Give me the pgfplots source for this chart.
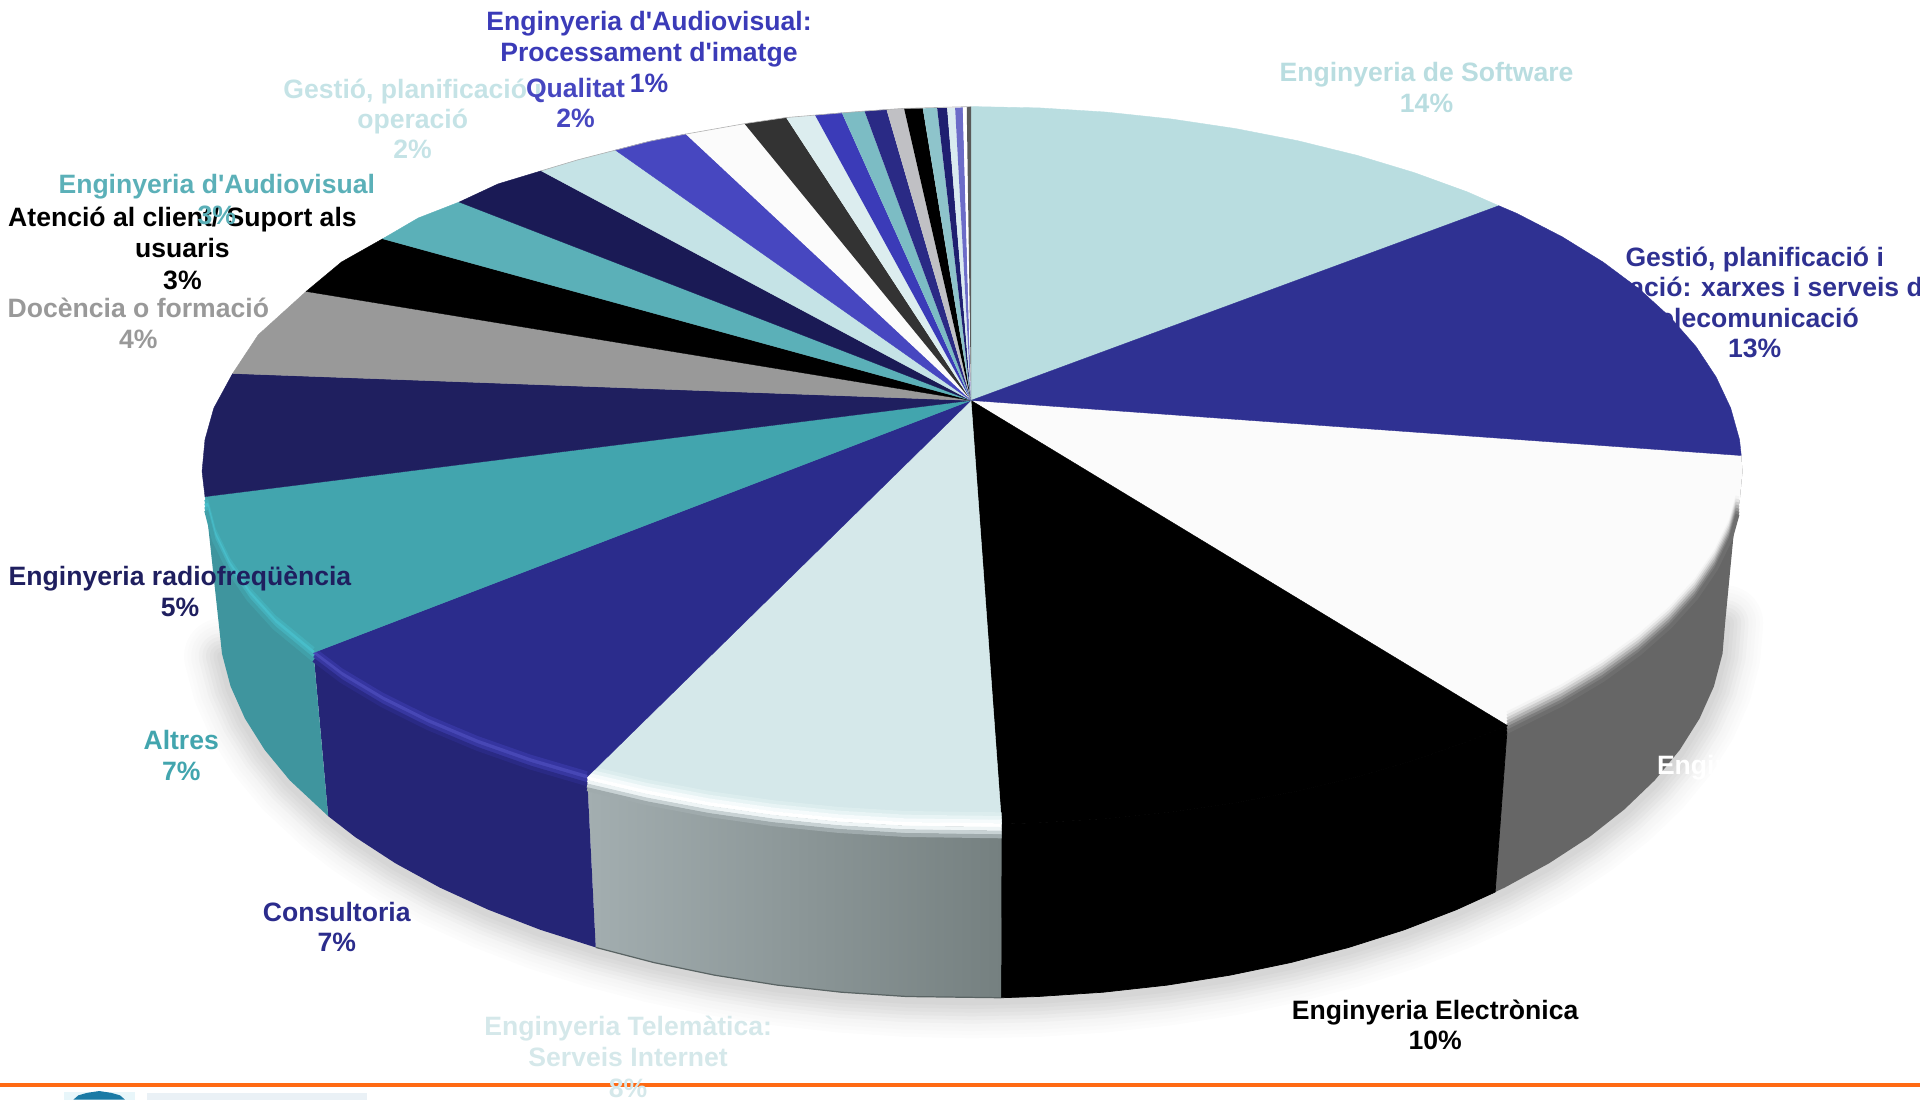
\documentclass[border=0pt]{standalone}
\usepackage{fontspec}
\setmainfont{Liberation Sans}[Ligatures=TeXOff]
\usepackage{pgfplots}
\pgfplotsset{compat=1.18}
\pgfplotstableread{
x y
1409 507
1406.7 533.9
1399.7 560.5
1388 586.7
1371.9 612.3
1351.4 637.2
1326.6 661
1297.8 683.7
1265.1 705
1228.9 724.8
1189.3 742.9
1146.8 759.3
1101.5 773.7
1053.9 786.1
1004.3 796.4
953.2 804.5
900.8 810.3
847.6 813.8
794 815
740.4 813.8
687.2 810.3
634.8 804.5
583.7 796.4
534.1 786.1
486.5 773.7
441.2 759.3
398.7 742.9
359.1 724.8
322.9 705
290.2 683.7
268 666.5
236.6 637.2
216.1 612.3
200 586.7
188.3 560.5
181.3 533.9
}\shadowarc
\pgfplotstableread{
x y
1419 415
1413.4 435
1401.5 459.5
1385.1 483.5
1364.1 506.7
1338.7 529
1309.3 550.2
1275.8 570.2
1238.8 588.6
1231 592.5
}\rimWhite
\pgfplotstableread{
x y
818 673
739.2 671.9
684.8 668.6
631.2 663.1
578.9 655.6
528.2 646
479.5 634.5
}\rimLight
\pgfplotstableread{
x y
479.5 634.5
433.2 620.9
389.7 605.6
349.2 588.6
312.2 570.2
278.7 550.2
256 533
}\rimNavy
\pgfplotstableread{
x y
256 533
224 506.7
202.9 483.5
186.5 459.5
174.6 435
168.4 411
}\rimTeal
\definecolor{cSoft}{HTML}{B9DDE0}
\definecolor{cGest}{HTML}{2F3192}
\definecolor{cLight}{HTML}{D5E8EA}
\definecolor{cNavy}{HTML}{2B2C8C}
\definecolor{cTeal}{HTML}{42A5AE}
\definecolor{cDark}{HTML}{1F1F5F}
\definecolor{cGray}{HTML}{999999}
\definecolor{cTeal2}{HTML}{5BB0B8}
\definecolor{cNavy2}{HTML}{1A1A55}
\definecolor{cLight2}{HTML}{C5E3E6}
\definecolor{cBlue}{HTML}{4747C0}
\definecolor{cBlue2}{HTML}{3B3BB8}
\definecolor{cFace}{HTML}{FBFBFB}
\definecolor{sLeft}{HTML}{A3AEB0}
\definecolor{sRight}{HTML}{758080}
\begin{document}
\begin{tikzpicture}[x=1pt,y=1pt,
  lab/.style={anchor=base,inner sep=0pt,yshift=-.3pt,font=\fontsize{21.7}{25.5}\selectfont\bfseries},
  shd/.style={line cap=round,line join=round},
  bev/.style={line width=3.2,line cap=butt,line join=round}]
\clip[use as bounding box] (0,0) rectangle (1568pt,897.6pt);
\begin{axis}[at={(0,0)},anchor=south west,scale only axis,width=1568pt,height=897.6pt,
  xmin=0,xmax=1568,ymin=0,ymax=897.6,y dir=reverse,hide axis,clip=false]
% soft shadow under the pie
\addplot[draw=black!1,line width=62,shd,yshift=-2pt] table {\shadowarc};
\addplot[draw=black!2,line width=56,shd,yshift=-2pt] table {\shadowarc};
\addplot[draw=black!3,line width=50,shd,yshift=-2pt] table {\shadowarc};
\addplot[draw=black!4,line width=44,shd,yshift=-2pt] table {\shadowarc};
\addplot[draw=black!6,line width=38,shd,yshift=-2pt] table {\shadowarc};
\addplot[draw=black!8,line width=32,shd,yshift=-2pt] table {\shadowarc};
\addplot[draw=black!10,line width=26,shd,yshift=-2pt] table {\shadowarc};
\addplot[draw=black!12,line width=20,shd,yshift=-2pt] table {\shadowarc};
\addplot[draw=black!14,line width=14,shd,yshift=-2pt] table {\shadowarc};
\addplot[draw=black!16,line width=8,shd,yshift=-2pt] table {\shadowarc};
% side faces
\addplot[fill=black!60,draw=none] coordinates {(1422,372)(1423,385)(1420.6,410.1)(1413.4,435)(1401.5,459.5)(1385.1,483.5)(1364.1,506.7)(1338.7,529)(1309.3,550.2)(1275.8,570.2)(1238.8,588.6)(1231,592.5)(1221,728.5)(1228.9,724.8)(1265.1,705)(1297.8,683.7)(1326.6,661)(1351.4,637.2)(1371.9,612.3)(1388,586.7)(1399.7,560.5)(1406.7,533.9)(1409,507)} --cycle;
\addplot[fill=black,draw=black,line width=.6] coordinates {(1231,592.5)(1198.3,605.6)(1154.8,620.9)(1108.5,634.4)(1059.8,646)(1009.1,655.6)(956.8,663.1)(903.2,668.6)(848.8,671.9)(818,673)(817.6,814.8)(847.6,813.8)(900.8,810.3)(953.2,804.5)(1004.3,796.4)(1053.9,786.1)(1101.5,773.7)(1146.8,759.3)(1189.3,742.9)(1221,728.5)} --cycle;
\addplot[left color=sLeft,right color=sRight,draw=none] coordinates {(818,673)(739.2,671.9)(684.8,668.6)(631.2,663.1)(578.9,655.6)(528.2,646)(479.5,634.5)(486.5,773.7)(534.1,786.1)(583.7,796.4)(634.8,804.5)(687.2,810.3)(740.4,813.8)(817.6,814.8)} --cycle;
\addplot[fill={rgb,255:red,37;green,37;blue,118},draw=none] coordinates {(479.5,634.5)(433.2,620.9)(389.7,605.6)(349.2,588.6)(312.2,570.2)(278.7,550.2)(256,533)(268,666.5)(290.2,683.7)(322.9,705)(359.1,724.8)(398.7,742.9)(441.2,759.3)(486.5,773.7)} --cycle;
\addplot[fill={rgb,255:red,63;green,149;blue,158},draw=none] coordinates {(256,533)(224,506.7)(202.9,483.5)(186.5,459.5)(174.6,435)(167.4,405.6)(181.3,533.9)(188.3,560.5)(200,586.7)(216.1,612.3)(236.6,637.2)(268,666.5)} --cycle;
% bottom outline of the light slice
\addplot[draw={rgb,255:red,90;green,100;blue,100},line width=1] coordinates {(486.5,773.7)(534.1,786.1)(583.7,796.4)(634.8,804.5)(687.2,810.3)(740.4,813.8)(817.6,814.8)};
% top faces, clockwise from the top
\addplot[fill=cSoft,draw=cSoft,line width=.3] coordinates {(793,327)(793,87)(848.8,88.1)(903.2,91.5)(956.8,97.2)(1009.1,105)(1059.8,114.9)(1108.5,126.9)(1154.8,140.9)(1198.3,156.7)(1224,168)} --cycle;
\addplot[fill=cFace,draw=none] coordinates {(793,327)(1422,372)(1423,385)(1420.6,410.1)(1413.4,435)(1401.5,459.5)(1385.1,483.5)(1364.1,506.7)(1338.7,529)(1309.3,550.2)(1275.8,570.2)(1238.8,588.6)(1231,592.5)} --cycle;
% soft bevel of the white slice
\addplot[draw={rgb,255:red,244;green,244;blue,244},bev,yshift=10pt] table {\rimWhite};
\addplot[draw={rgb,255:red,228;green,228;blue,228},bev,yshift=7.5pt] table {\rimWhite};
\addplot[draw={rgb,255:red,205;green,205;blue,205},bev,yshift=5pt] table {\rimWhite};
\addplot[draw={rgb,255:red,178;green,178;blue,178},bev,yshift=2.5pt] table {\rimWhite};
\addplot[draw={rgb,255:red,150;green,150;blue,150},bev] table {\rimWhite};
\addplot[draw={rgb,255:red,125;green,125;blue,125},bev,yshift=-2.5pt] table {\rimWhite};
\addplot[draw={rgb,255:red,110;green,110;blue,110},bev,yshift=-5pt] table {\rimWhite};
\addplot[fill=cGest,draw=cGest,line width=.3] coordinates {(793,327)(1224,168)(1238.8,174.3)(1275.8,193.4)(1309.3,214.1)(1338.7,236)(1364.1,259.1)(1385.1,283.1)(1401.5,307.9)(1413.4,333.3)(1420.6,359)(1422,372)} --cycle;
\addplot[fill=black,draw=black,line width=.3] coordinates {(793,327)(1231,592.5)(1198.3,605.6)(1154.8,620.9)(1108.5,634.4)(1059.8,646)(1009.1,655.6)(956.8,663.1)(903.2,668.6)(848.8,671.9)(818,673)} --cycle;
\addplot[fill=cLight,draw=cLight,line width=.3] coordinates {(793,327)(818,673)(739.2,671.9)(684.8,668.6)(631.2,663.1)(578.9,655.6)(528.2,646)(479.5,634.5)} --cycle;
% highlight of the light slice
\addplot[draw={rgb,255:red,220;green,237;blue,238},bev,yshift=8pt] table {\rimLight};
\addplot[draw={rgb,255:red,232;green,244;blue,245},bev,yshift=5pt] table {\rimLight};
\addplot[draw={rgb,255:red,246;green,251;blue,252},bev,yshift=2pt] table {\rimLight};
\addplot[draw=white,bev,yshift=-1pt] table {\rimLight};
\addplot[draw={rgb,255:red,239;green,245;blue,246},bev,yshift=-4pt] table {\rimLight};
\addplot[draw={rgb,255:red,200;green,210;blue,212},bev,yshift=-7pt] table {\rimLight};
\addplot[draw={rgb,255:red,160;green,171;blue,173},bev,yshift=-10pt] table {\rimLight};
\addplot[fill=cNavy,draw=cNavy,line width=.3] coordinates {(793,327)(479.5,634.5)(433.2,620.9)(389.7,605.6)(349.2,588.6)(312.2,570.2)(278.7,550.2)(256,533)} --cycle;
% highlight of the navy slice
\addplot[draw={rgb,255:red,53;green,53;blue,160},bev,yshift=3pt] table {\rimNavy};
\addplot[draw={rgb,255:red,71;green,71;blue,181},bev] table {\rimNavy};
\addplot[draw={rgb,255:red,55;green,55;blue,160},bev,yshift=-3pt] table {\rimNavy};
\addplot[draw={rgb,255:red,42;green,42;blue,133},bev,yshift=-6pt] table {\rimNavy};
\addplot[fill=cTeal,draw=cTeal,line width=.3] coordinates {(793,327)(256,533)(224,506.7)(202.9,483.5)(186.5,459.5)(174.6,435)(167.4,405.6)} --cycle;
% highlight of the teal slice
\addplot[draw={rgb,255:red,68;green,176;blue,186},bev,yshift=3pt] table {\rimTeal};
\addplot[draw={rgb,255:red,72;green,189;blue,201},bev] table {\rimTeal};
\addplot[draw={rgb,255:red,69;green,176;blue,187},bev,yshift=-3pt] table {\rimTeal};
\addplot[draw={rgb,255:red,65;green,160;blue,169},bev,yshift=-6pt] table {\rimTeal};
\addplot[fill=cDark,draw=cDark,line width=.3] coordinates {(793,327)(167.4,405.6)(165,385)(167.4,359)(174.6,333.3)(190,305)} --cycle;
\addplot[fill=cGray,draw=cGray,line width=.3] coordinates {(793,327)(190,305)(210.9,273.4)(250,238)} --cycle;
\addplot[fill=black,draw=black,line width=.3] coordinates {(793,327)(250,238)(278.8,214)(312.5,195)} --cycle;
\addplot[fill=cTeal2,draw=cTeal2,line width=.3] coordinates {(793,327)(312.5,195)(341.6,178)(375,165)} --cycle;
\addplot[fill=cNavy2,draw=cNavy2,line width=.3] coordinates {(793,327)(375,165)(406.7,150.2)(442,139.5)} --cycle;
\addplot[fill=cLight2,draw=cLight2,line width=.3] coordinates {(793,327)(442,139.5)(472,130.5)(502.6,122.6)} --cycle;
\addplot[fill=cBlue,draw=cBlue,line width=.3] coordinates {(793,327)(502.6,122.6)(530,115.5)(560,109.5)} --cycle;
\addplot[fill=cFace,draw=none] coordinates {(793,327)(560,109.5)(608,101)} --cycle;
\addplot[fill=black!80,draw=none] coordinates {(793,327)(608,101)(642,96)} --cycle;
\addplot[fill={rgb,255:red,220;green,237;blue,239},draw=none] coordinates {(793,327)(642,96)(665.6,94)} --cycle;
\addplot[fill=cBlue2,draw=none] coordinates {(793,327)(665.6,94)(687.5,92)} --cycle;
\addplot[fill={rgb,255:red,124;green,188;blue,196},draw=none] coordinates {(793,327)(687.5,92)(706,90.7)} --cycle;
\addplot[fill={rgb,255:red,42;green,42;blue,133},draw=none] coordinates {(793,327)(706,90.7)(724,89.4)} --cycle;
\addplot[fill={rgb,255:red,192;green,192;blue,196},draw=none] coordinates {(793,327)(724,89.4)(738.3,88.5)} --cycle;
\addplot[fill=black,draw=none] coordinates {(793,327)(738.3,88.5)(753.6,88.5)} --cycle;
\addplot[fill={rgb,255:red,142;green,196;blue,203},draw=none] coordinates {(793,327)(753.6,88.5)(765.3,88)} --cycle;
\addplot[fill={rgb,255:red,31;green,31;blue,112},draw=none] coordinates {(793,327)(765.3,88)(773.5,88)} --cycle;
\addplot[fill={rgb,255:red,218;green,235;blue,240},draw=none] coordinates {(793,327)(773.5,88)(780,88)} --cycle;
\addplot[fill={rgb,255:red,108;green,108;blue,200},draw=none] coordinates {(793,327)(780,88)(786.3,87.7)} --cycle;
\addplot[fill=white,draw=none] coordinates {(793,327)(786.3,87.7)(789.5,87.7)} --cycle;
\addplot[fill=black!65,draw=none] coordinates {(793,327)(789.5,87.7)(793,87)} --cycle;
% thin grey edge along the back rim
\addplot[draw=black!30,line width=.5] coordinates {(442,139.5)(472,130.5)(502.6,122.6)(530,115.5)(560,109.5)(608,101)(642,96)(665.6,94)(706,90.7)(738.3,88.5)(793,87)};
% footer rule and the top of the logo
\addplot[draw={rgb,255:red,255;green,106;blue,19},line width=2.6] coordinates {(0,886)(1568,886)};
\addplot[fill={rgb,255:red,232;green,246;blue,250},draw=none] coordinates {(52,892)(110,892)(110,898)(52,898)} --cycle;
\addplot[fill={rgb,255:red,26;green,122;blue,165},draw=none] coordinates {(60,898)(64,894.5)(71,892.5)(81,891)(91,892.5)(98,894.5)(102,898)} --cycle;
\addplot[fill={rgb,255:red,234;green,241;blue,246},draw=none] coordinates {(120,892.5)(300,892.5)(300,898)(120,898)} --cycle;
% data labels
\node[lab,text=cSoft] at (axis cs:1165,66) {Enginyeria de Software};
\node[lab,text=cSoft] at (axis cs:1165,91.5) {14\%};
\node[lab,text=cGest] at (axis cs:1433,217) {Gestió, planificació i};
\node[lab,text=cGest] at (axis cs:1433,242) {operació: xarxes i serveis de};
\node[lab,text=cGest] at (axis cs:1433,267) {telecomunicació};
\node[lab,text=cGest] at (axis cs:1433,292) {13\%};
\node[lab,text=white,anchor=base west] at (axis cs:1353,632) {Enginyeria};
\node[lab,text=black] at (axis cs:1172,832) {Enginyeria Electrònica};
\node[lab,text=black] at (axis cs:1172,857) {10\%};
\node[lab,text=cLight] at (axis cs:513,845) {Enginyeria Telemàtica:};
\node[lab,text=cLight] at (axis cs:513,870.5) {Serveis Internet};
\node[lab,text=cLight] at (axis cs:513,896) {8\%};
\node[lab,text=cNavy] at (axis cs:275,752) {Consultoria};
\node[lab,text=cNavy] at (axis cs:275,777) {7\%};
\node[lab,text=cTeal] at (axis cs:148,612) {Altres};
\node[lab,text=cTeal] at (axis cs:148,637) {7\%};
\node[lab,text=cDark] at (axis cs:147,478) {Enginyeria radiofreqüència};
\node[lab,text=cDark] at (axis cs:147,503) {5\%};
\node[lab,text=cGray] at (axis cs:113,259) {Docència o formació};
\node[lab,text=cGray] at (axis cs:113,284) {4\%};
\node[lab,text=black] at (axis cs:149,185) {Atenció al client/ Suport als};
\node[lab,text=black] at (axis cs:149,210) {usuaris};
\node[lab,text=black] at (axis cs:149,236) {3\%};
\node[lab,text=cTeal2] at (axis cs:177,157.5) {Enginyeria d'Audiovisual};
\node[lab,text=cTeal2] at (axis cs:177,183) {3\%};
\node[lab,text=cLight2] at (axis cs:337,80) {Gestió, planificació i};
\node[lab,text=cLight2] at (axis cs:337,105) {operació};
\node[lab,text=cLight2] at (axis cs:337,129.5) {2\%};
\node[lab,text=cBlue] at (axis cs:470,79) {Qualitat};
\node[lab,text=cBlue] at (axis cs:470,104) {2\%};
\node[lab,text=cBlue2] at (axis cs:530,25) {Enginyeria d'Audiovisual:};
\node[lab,text=cBlue2] at (axis cs:530,50) {Processament d'imatge};
\node[lab,text=cBlue2] at (axis cs:530,75) {1\%};
\end{axis}
\end{tikzpicture}
\end{document}
